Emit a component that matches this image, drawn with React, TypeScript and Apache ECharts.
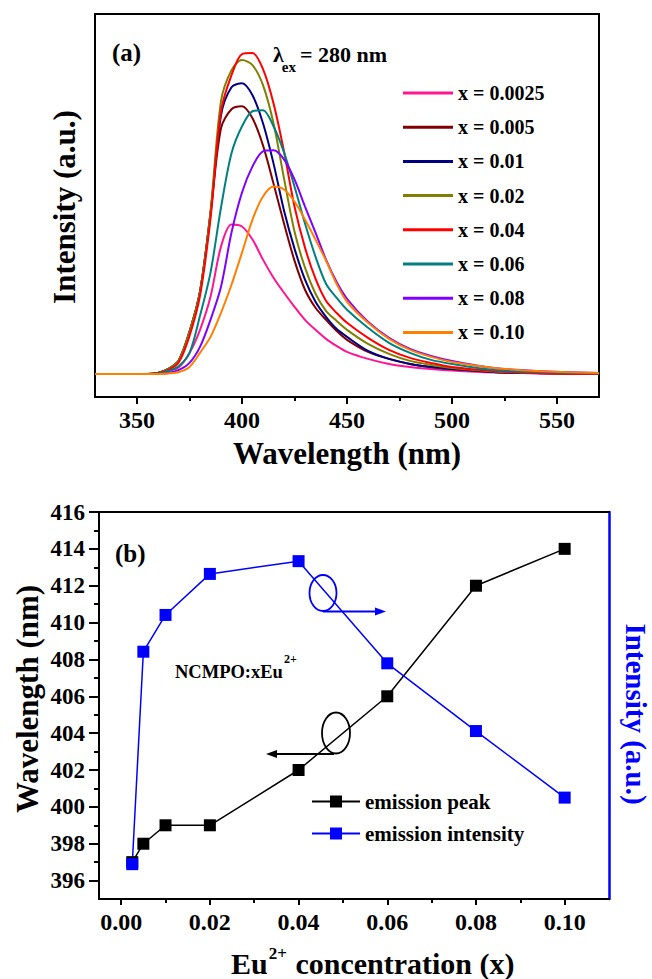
import React, { useEffect, useRef } from "react";
import * as echarts from "echarts";

// ---------- (a) emission spectra ----------
const wavelengths = [330, 355, 360, 365, 370, 375, 380, 385, 390, 395, 400, 405, 410, 415, 420, 425, 430, 435, 440, 445, 450, 460, 470, 480, 490, 500, 520, 540, 570];

const sampleNames = ["x = 0.0025", "x = 0.005", "x = 0.01", "x = 0.02", "x = 0.04", "x = 0.06", "x = 0.08", "x = 0.10"];
const sampleColors = ["#ff1493", "#800000", "#000080", "#808000", "#ff0000", "#008080", "#8000ff", "#ff8000"];

const spec0025 = [0, 0, 1, 3, 7, 21, 44, 77, 127, 149, 147, 134, 114, 96, 81, 67, 54, 44, 35, 28, 22, 15, 10, 7, 5, 3.5, 1.5, 0.5, 0];
const spec005 = [0, 0, 1, 5, 14, 42, 82, 160, 245, 264, 267, 255, 228, 190, 150, 113, 84, 66, 54, 43, 34, 22, 15, 10, 7, 5, 2, 1, 0];
const spec01 = [0, 0, 1, 5, 14, 42, 82, 160, 258, 286, 290, 278, 250, 210, 163, 125, 94, 72, 57, 45, 37, 23, 15, 10, 7, 5, 2, 1, 0];
const spec02 = [0, 0, 1, 5, 14, 42, 82, 162, 272, 303, 313, 308, 288, 250, 195, 142, 106, 80, 63, 53, 44, 30, 20, 13, 9, 6, 2.5, 1, 0];
const spec04 = [0, 0, 1, 4, 12, 38, 78, 155, 262, 298, 319, 320, 304, 270, 222, 167, 126, 95, 73, 61, 51, 36, 24, 16, 11, 7, 3, 1, 0];
const spec06 = [0, 0, 0.5, 3, 8, 21, 58, 101, 166, 220, 247, 262, 263, 247, 221, 187, 150, 117, 90, 76, 64, 46, 31, 21, 14, 10, 4, 2, 0.5];
const spec08 = [0, 0, 0, 1, 4, 11, 27, 54, 87, 141, 181, 207, 222, 223, 214, 194, 167, 141, 114, 92, 75, 52, 36, 25, 18, 13, 6, 3, 1];
const spec10 = [0, 0, 0, 0.5, 2, 7, 21, 37, 61, 89, 121, 154, 177, 187, 184, 172, 154, 134, 113, 90, 72, 51, 35, 24, 17, 12, 6, 3, 1];
const spectra = [spec0025, spec005, spec01, spec02, spec04, spec06, spec08, spec10];

const spectraTicks = [350, 400, 450, 500, 550];
const spectraMinorTicks = [375, 425, 475, 525];

// ---------- (b) peak position and intensity ----------
const concentrations = [0.0025, 0.005, 0.01, 0.02, 0.04, 0.06, 0.08, 0.1];
const emissionPeak = [397, 398, 399, 399, 402, 406, 412, 414];
const emissionIntensity = [9.0, 63.9, 73.4, 84.0, 87.3, 60.9, 43.4, 26.2];

const concTicks = [0, 0.02, 0.04, 0.06, 0.08, 0.1];
const concMinorTicks = [0.01, 0.03, 0.05, 0.07, 0.09];
const peakTicks = [396, 398, 400, 402, 404, 406, 408, 410, 412, 414, 416];
const peakMinorTicks = [397, 399, 401, 403, 405, 407, 409, 411, 413, 415];

const FONT = "'Liberation Serif', 'Times New Roman', Times, serif";

function measure(text: string, size: number): number {
  const c = document.createElement("canvas").getContext("2d");
  if (!c) return text.length * size * 0.5;
  c.font = `bold ${size}px ${FONT}`;
  return c.measureText(text).width;
}

function txt(x: number, y: number, text: string, size: number, opts: any = {}) {
  const align = opts.align || "left";
  return {
    type: "text",
    x,
    y,
    rotation: opts.rotation || 0,
    z: 100,
    style: {
      text,
      fill: opts.color || "#000",
      fontSize: size,
      fontFamily: FONT,
      fontWeight: "bold",
      textAlign: align,
      align,
      textVerticalAlign: "middle",
      verticalAlign: "middle",
    },
  };
}

export default function App() {
  const ref = useRef<HTMLDivElement>(null);

  useEffect(() => {
    const el = ref.current;
    if (!el) return;
    const chart = echarts.init(el, undefined, { renderer: "svg", width: 652, height: 979 });

    const labelStyle = (size: number) => ({
      fontFamily: FONT,
      fontWeight: "bold" as const,
      fontSize: size,
      color: "#000",
    });

    const blackLine = { show: true, onZero: false, lineStyle: { color: "#000", width: 2 } };

    const euW = measure("Eu", 30);
    const supW = measure("2+", 17);
    const tx0 = 231;
    const ncW = measure("NCMPO:xEu", 18.5);
    const nc0 = 175;
    const lamW = measure("λ", 22);
    const exW = measure("ex", 15);
    const lam0 = 273;

    const spectraSeries = spectra.map((arr, i) => ({
      type: "line",
      name: sampleNames[i],
      xAxisIndex: 0,
      yAxisIndex: 0,
      data: wavelengths.map((w, j) => [w, arr[j]]),
      symbol: "none",
      smooth: 0.3,
      color: sampleColors[i],
      lineStyle: { color: sampleColors[i], width: 2 },
      itemStyle: { color: sampleColors[i] },
    }));

    const option: any = {
      animation: false,
      backgroundColor: "#fff",
      grid: [
        {
          left: 95,
          top: 14,
          width: 504,
          height: 383,
          show: true,
          borderColor: "#000",
          borderWidth: 2,
          backgroundColor: "transparent",
          containLabel: false,
          outerBoundsMode: "none",
        },
        {
          left: 99,
          top: 512,
          width: 510,
          height: 387,
          show: false,
          containLabel: false,
          outerBoundsMode: "none",
        },
      ],
      xAxis: [
        {
          gridIndex: 0,
          type: "value",
          min: 330,
          max: 570,
          position: "bottom",
          axisLine: blackLine,
          axisTick: { show: true, inside: false, length: 7, customValues: spectraTicks, lineStyle: { color: "#000", width: 2 } },
          axisLabel: { show: true, margin: 11, customValues: spectraTicks, ...labelStyle(24) },
          splitLine: { show: false },
        },
        {
          gridIndex: 0,
          type: "value",
          min: 330,
          max: 570,
          position: "bottom",
          axisLine: { show: false, onZero: false },
          axisTick: { show: true, inside: false, length: 4, customValues: spectraMinorTicks, lineStyle: { color: "#000", width: 2 } },
          axisLabel: { show: false },
          splitLine: { show: false },
        },
        {
          gridIndex: 1,
          type: "value",
          min: -0.005,
          max: 0.11,
          position: "bottom",
          axisLine: blackLine,
          axisTick: { show: true, inside: false, length: 6, customValues: concTicks, lineStyle: { color: "#000", width: 2 } },
          axisLabel: {
            show: true,
            margin: 11,
            customValues: concTicks,
            formatter: (v: number) => v.toFixed(2),
            ...labelStyle(24),
          },
          splitLine: { show: false },
        },
        {
          gridIndex: 1,
          type: "value",
          min: -0.005,
          max: 0.11,
          position: "bottom",
          axisLine: { show: false, onZero: false },
          axisTick: { show: true, inside: false, length: 4, customValues: concMinorTicks, lineStyle: { color: "#000", width: 2 } },
          axisLabel: { show: false },
          splitLine: { show: false },
        },
        {
          gridIndex: 1,
          type: "value",
          min: -0.005,
          max: 0.11,
          position: "top",
          axisLine: blackLine,
          axisTick: { show: false },
          axisLabel: { show: false },
          splitLine: { show: false },
        },
      ],
      yAxis: [
        {
          gridIndex: 0,
          type: "value",
          min: -23,
          max: 359,
          axisLine: { show: false, onZero: false },
          axisTick: { show: false },
          axisLabel: { show: false },
          splitLine: { show: false },
        },
        {
          gridIndex: 1,
          type: "value",
          min: 395,
          max: 416,
          position: "left",
          axisLine: blackLine,
          axisTick: { show: true, inside: false, length: 10, customValues: peakTicks, lineStyle: { color: "#000", width: 2 } },
          axisLabel: { show: true, margin: 14, customValues: peakTicks, ...labelStyle(23) },
          splitLine: { show: false },
        },
        {
          gridIndex: 1,
          type: "value",
          min: 395,
          max: 416,
          position: "left",
          axisLine: { show: false, onZero: false },
          axisTick: { show: true, inside: false, length: 5, customValues: peakMinorTicks, lineStyle: { color: "#000", width: 2 } },
          axisLabel: { show: false },
          splitLine: { show: false },
        },
        {
          gridIndex: 1,
          type: "value",
          min: 0,
          max: 100,
          position: "right",
          axisLine: { show: true, onZero: false, lineStyle: { color: "#0000ff", width: 2.5 } },
          axisTick: { show: false },
          axisLabel: { show: false },
          splitLine: { show: false },
        },
      ],
      legend: [
        {
          data: sampleNames,
          orient: "vertical",
          left: 398,
          top: 78,
          icon: "rect",
          itemWidth: 50,
          itemHeight: 3,
          itemGap: 14.2,
          selectedMode: false,
          textStyle: { ...labelStyle(20), lineHeight: 14 },
        },
        {
          data: ["emission peak", "emission intensity"],
          orient: "vertical",
          left: 306,
          top: 786,
          itemWidth: 48,
          itemHeight: 15,
          itemGap: 11,
          selectedMode: false,
          textStyle: { ...labelStyle(21), lineHeight: 15 },
        },
      ],
      series: [
        ...spectraSeries,
        {
          type: "line",
          name: "emission peak",
          xAxisIndex: 2,
          yAxisIndex: 1,
          data: concentrations.map((c, i) => [c, emissionPeak[i]]),
          symbol: "rect",
          symbolSize: 12,
          color: "#000",
          lineStyle: { color: "#000", width: 1.5 },
          itemStyle: { color: "#000" },
        },
        {
          type: "line",
          name: "emission intensity",
          xAxisIndex: 2,
          yAxisIndex: 3,
          data: concentrations.map((c, i) => [c, emissionIntensity[i]]),
          symbol: "rect",
          symbolSize: 12,
          color: "#0000ff",
          lineStyle: { color: "#0000ff", width: 1.5 },
          itemStyle: { color: "#0000ff" },
        },
      ],
      graphic: [
        // panel (a)
        txt(112, 52, "(a)", 25),
        txt(lam0, 54, "λ", 22),
        txt(lam0 + lamW - 2, 67, "ex", 15),
        txt(lam0 + lamW + exW + 2, 54, "= 280 nm", 22),
        txt(64.5, 207, "Intensity (a.u.)", 31, { align: "center", rotation: Math.PI / 2 }),
        txt(347, 453, "Wavelength (nm)", 31, { align: "center" }),
        // panel (b)
        txt(115, 553, "(b)", 25),
        txt(nc0, 672, "NCMPO:xEu", 18.5),
        txt(nc0 + ncW + 1, 659, "2+", 12),
        txt(27.5, 699, "Wavelength (nm)", 31, { align: "center", rotation: Math.PI / 2 }),
        txt(636, 714, "Intensity (a.u.)", 29, { align: "center", rotation: -Math.PI / 2, color: "#0000ff" }),
        txt(tx0, 963, "Eu", 30),
        txt(tx0 + euW + 1, 953, "2+", 17),
        txt(tx0 + euW + supW + 2, 963, " concentration (x)", 30),
        // annotations
        {
          type: "ellipse",
          z: 100,
          shape: { cx: 323, cy: 593, rx: 13.5, ry: 18 },
          style: { fill: "none", stroke: "#0000ff", lineWidth: 1.8 },
        },
        {
          type: "line",
          z: 100,
          shape: { x1: 323, y1: 611.5, x2: 378, y2: 611.5 },
          style: { stroke: "#0000ff", lineWidth: 1.8 },
        },
        {
          type: "polygon",
          z: 100,
          shape: { points: [[386, 611.5], [375, 607.5], [375, 615.5]] },
          style: { fill: "#0000ff" },
        },
        {
          type: "ellipse",
          z: 100,
          shape: { cx: 336, cy: 733, rx: 14, ry: 20.5 },
          style: { fill: "none", stroke: "#000", lineWidth: 1.8 },
        },
        {
          type: "line",
          z: 100,
          shape: { x1: 334, y1: 754, x2: 275, y2: 754 },
          style: { stroke: "#000", lineWidth: 1.8 },
        },
        {
          type: "polygon",
          z: 100,
          shape: { points: [[266, 754], [277, 750], [277, 758]] },
          style: { fill: "#000" },
        },
      ],
    };

    chart.setOption(option);
    return () => {
      chart.dispose();
    };
  }, []);

  return (
    <div
      ref={ref}
      style={{ position: "absolute", left: 0, top: 0, width: 652, height: 979, background: "#fff" }}
    />
  );
}
